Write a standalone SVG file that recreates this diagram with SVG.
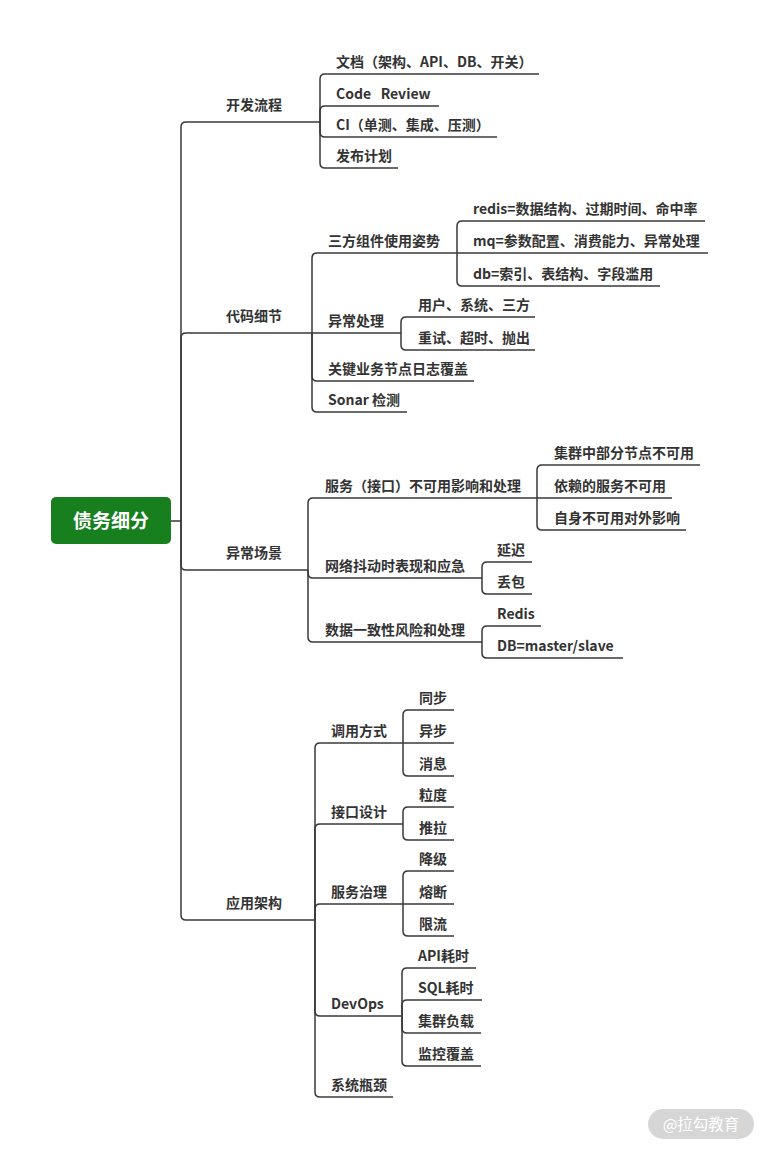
<svg xmlns="http://www.w3.org/2000/svg" width="766" height="1149" viewBox="0 0 766 1149">
<style>
.t{font-family:"Noto Sans CJK SC","Noto Sans",sans-serif;font-size:14px;font-weight:bold;fill:#333;white-space:pre}
.u{stroke:#383838;stroke-width:1.5;fill:none}
.c path{stroke:#383838;stroke-width:1.5;fill:none}
.root{font-family:"Noto Sans CJK SC",sans-serif;font-size:19px;font-weight:bold;fill:#fff}
.wm{font-family:"Noto Sans CJK SC",sans-serif;font-size:15.5px;fill:#fff}
</style>
<rect width="766" height="1149" fill="#fff"/>
<g id="connectors" class="c">
<path d="M171,521H181"/>
<path d="M181,521V127Q181,122 186,122"/>
<path d="M181,521V338Q181,333 186,333"/>
<path d="M181,521V565Q181,570 186,570H210"/>
<path d="M181,521V915Q181,920 186,920"/>
<path d="M320,122V79Q320,74 325,74"/>
<path d="M320,122V111Q320,106 325,106"/>
<path d="M320,122V132Q320,137 325,137"/>
<path d="M320,122V163Q320,168 325,168"/>
<path d="M312,333V258Q312,253 317,253"/>
<path d="M312,333H317"/>
<path d="M312,333V376Q312,381 317,381"/>
<path d="M312,333V407Q312,412 317,412"/>
<path d="M457,253V226Q457,221 462,221"/>
<path d="M457,253H462"/>
<path d="M457,253V281Q457,286 462,286"/>
<path d="M401,333V322Q401,317 406,317"/>
<path d="M401,333V345Q401,350 406,350"/>
<path d="M308,570V503Q308,498 313,498"/>
<path d="M308,570V573Q308,578 313,578"/>
<path d="M308,570V637Q308,642 313,642"/>
<path d="M537,498V470Q537,465 542,465"/>
<path d="M537,498H542"/>
<path d="M537,498V525Q537,530 542,530"/>
<path d="M482,578V567Q482,562 487,562"/>
<path d="M482,578V589Q482,594 487,594"/>
<path d="M482,642V631Q482,626 487,626"/>
<path d="M482,642V653Q482,658 487,658"/>
<path d="M315,920V748Q315,743 320,743"/>
<path d="M315,920V829Q315,824 320,824"/>
<path d="M315,920V909Q315,904 320,904"/>
<path d="M315,920V1011Q315,1016 320,1016"/>
<path d="M315,920V1092Q315,1097 320,1097"/>
<path d="M403,743V715Q403,710 408,710"/>
<path d="M403,743H408"/>
<path d="M403,743V771Q403,776 408,776"/>
<path d="M403,824V812Q403,807 408,807"/>
<path d="M403,824V835Q403,840 408,840"/>
<path d="M403,904V876Q403,871 408,871"/>
<path d="M403,904H408"/>
<path d="M403,904V931Q403,936 408,936"/>
<path d="M402,1016V973Q402,968 407,968"/>
<path d="M402,1016V1005Q402,1000 407,1000"/>
<path d="M402,1016V1028Q402,1033 407,1033"/>
<path d="M402,1016V1061Q402,1066 407,1066"/>
</g>
<g id="n-root"><rect x="51" y="497" width="120" height="47" rx="5" fill="#187f1f"/><text class="root" x="111" y="528" text-anchor="middle">债务细分</text></g>
<g id="n-kaifa"><line class="u" x1="186" y1="122" x2="320" y2="122"/><text class="t" x="226" y="109.5">开发流程</text></g>
<g id="n-wendang"><line class="u" x1="325" y1="74" x2="539" y2="74"/><text class="t" x="336" y="67">文档（架构、API、DB、开关）</text></g>
<g id="n-code"><line class="u" x1="325" y1="106" x2="439" y2="106"/><text class="t" x="336" y="99">Code   Review</text></g>
<g id="n-ci"><line class="u" x1="325" y1="137" x2="497" y2="137"/><text class="t" x="336" y="130">CI（单测、集成、压测）</text></g>
<g id="n-fabu"><line class="u" x1="325" y1="168" x2="398" y2="168"/><text class="t" x="336" y="161">发布计划</text></g>
<g id="n-daima"><line class="u" x1="186" y1="333" x2="312" y2="333"/><text class="t" x="226" y="320.5">代码细节</text></g>
<g id="n-sanfang"><line class="u" x1="317" y1="253" x2="457" y2="253"/><text class="t" x="328" y="246">三方组件使用姿势</text></g>
<g id="n-redis"><line class="u" x1="462" y1="221" x2="705" y2="221"/><text class="t" x="473" y="214">redis=数据结构、过期时间、命中率</text></g>
<g id="n-mq"><line class="u" x1="462" y1="253" x2="708" y2="253"/><text class="t" x="473" y="246">mq=参数配置、消费能力、异常处理</text></g>
<g id="n-db"><line class="u" x1="462" y1="286" x2="660" y2="286"/><text class="t" x="473" y="279">db=索引、表结构、字段滥用</text></g>
<g id="n-yichang"><line class="u" x1="317" y1="333" x2="401" y2="333"/><text class="t" x="328" y="326">异常处理</text></g>
<g id="n-yonghu"><line class="u" x1="406" y1="317" x2="535" y2="317"/><text class="t" x="418" y="310">用户、系统、三方</text></g>
<g id="n-chongshi"><line class="u" x1="406" y1="350" x2="535" y2="350"/><text class="t" x="418" y="343">重试、超时、抛出</text></g>
<g id="n-guanjian"><line class="u" x1="317" y1="381" x2="474" y2="381"/><text class="t" x="328" y="374">关键业务节点日志覆盖</text></g>
<g id="n-sonar"><line class="u" x1="317" y1="412" x2="407" y2="412"/><text class="t" x="328" y="405">Sonar 检测</text></g>
<g id="n-changjing"><line class="u" x1="210" y1="570" x2="308" y2="570" stroke-width="2.4"/><text class="t" x="226" y="557.5">异常场景</text></g>
<g id="n-fuwu"><line class="u" x1="313" y1="498" x2="537" y2="498"/><text class="t" x="325" y="491">服务（接口）不可用影响和处理</text></g>
<g id="n-jiqun"><line class="u" x1="542" y1="465" x2="700" y2="465"/><text class="t" x="554" y="458">集群中部分节点不可用</text></g>
<g id="n-yilai"><line class="u" x1="542" y1="498" x2="672" y2="498"/><text class="t" x="554" y="491">依赖的服务不可用</text></g>
<g id="n-zishen"><line class="u" x1="542" y1="530" x2="686" y2="530"/><text class="t" x="554" y="523">自身不可用对外影响</text></g>
<g id="n-wangluo"><line class="u" x1="313" y1="578" x2="482" y2="578"/><text class="t" x="325" y="571">网络抖动时表现和应急</text></g>
<g id="n-yanchi"><line class="u" x1="487" y1="562" x2="532" y2="562"/><text class="t" x="497" y="555">延迟</text></g>
<g id="n-diubao"><line class="u" x1="487" y1="594" x2="532" y2="594"/><text class="t" x="497" y="587">丢包</text></g>
<g id="n-shuju"><line class="u" x1="313" y1="642" x2="482" y2="642"/><text class="t" x="325" y="635">数据一致性风险和处理</text></g>
<g id="n-redis2"><line class="u" x1="487" y1="626" x2="541" y2="626"/><text class="t" x="497" y="619">Redis</text></g>
<g id="n-dbms"><line class="u" x1="487" y1="658" x2="623" y2="658"/><text class="t" x="497" y="651">DB=master/slave</text></g>
<g id="n-yingyong"><line class="u" x1="186" y1="920" x2="315" y2="920"/><text class="t" x="226" y="907.5">应用架构</text></g>
<g id="n-diaoyong"><line class="u" x1="320" y1="743" x2="403" y2="743"/><text class="t" x="331" y="736">调用方式</text></g>
<g id="n-tongbu"><line class="u" x1="408" y1="710" x2="454" y2="710"/><text class="t" x="419" y="703">同步</text></g>
<g id="n-yibu"><line class="u" x1="408" y1="743" x2="454" y2="743"/><text class="t" x="419" y="736">异步</text></g>
<g id="n-xiaoxi"><line class="u" x1="408" y1="776" x2="454" y2="776"/><text class="t" x="419" y="769">消息</text></g>
<g id="n-jiekou"><line class="u" x1="320" y1="824" x2="403" y2="824"/><text class="t" x="331" y="817">接口设计</text></g>
<g id="n-lidu"><line class="u" x1="408" y1="807" x2="454" y2="807"/><text class="t" x="419" y="800">粒度</text></g>
<g id="n-tuila"><line class="u" x1="408" y1="840" x2="454" y2="840"/><text class="t" x="419" y="833">推拉</text></g>
<g id="n-zhili"><line class="u" x1="320" y1="904" x2="403" y2="904"/><text class="t" x="331" y="897">服务治理</text></g>
<g id="n-jiangji"><line class="u" x1="408" y1="871" x2="454" y2="871"/><text class="t" x="419" y="864">降级</text></g>
<g id="n-rongduan"><line class="u" x1="408" y1="904" x2="454" y2="904"/><text class="t" x="419" y="897">熔断</text></g>
<g id="n-xianliu"><line class="u" x1="408" y1="936" x2="454" y2="936"/><text class="t" x="419" y="929">限流</text></g>
<g id="n-devops"><line class="u" x1="320" y1="1016" x2="402" y2="1016"/><text class="t" x="331" y="1009">DevOps</text></g>
<g id="n-api"><line class="u" x1="407" y1="968" x2="476" y2="968"/><text class="t" x="418" y="961">API耗时</text></g>
<g id="n-sql"><line class="u" x1="407" y1="1000" x2="482" y2="1000"/><text class="t" x="418" y="993">SQL耗时</text></g>
<g id="n-fuzai"><line class="u" x1="407" y1="1033" x2="481" y2="1033"/><text class="t" x="418" y="1026">集群负载</text></g>
<g id="n-jiankong"><line class="u" x1="407" y1="1066" x2="481" y2="1066"/><text class="t" x="418" y="1059">监控覆盖</text></g>
<g id="n-pingjing"><line class="u" x1="320" y1="1097" x2="393" y2="1097"/><text class="t" x="331" y="1090">系统瓶颈</text></g>
<g id="watermark"><rect x="648" y="1109" width="106" height="30" rx="15" fill="#d6d6d6"/><text class="wm" x="701" y="1129.5" text-anchor="middle">@拉勾教育</text></g>
</svg>
